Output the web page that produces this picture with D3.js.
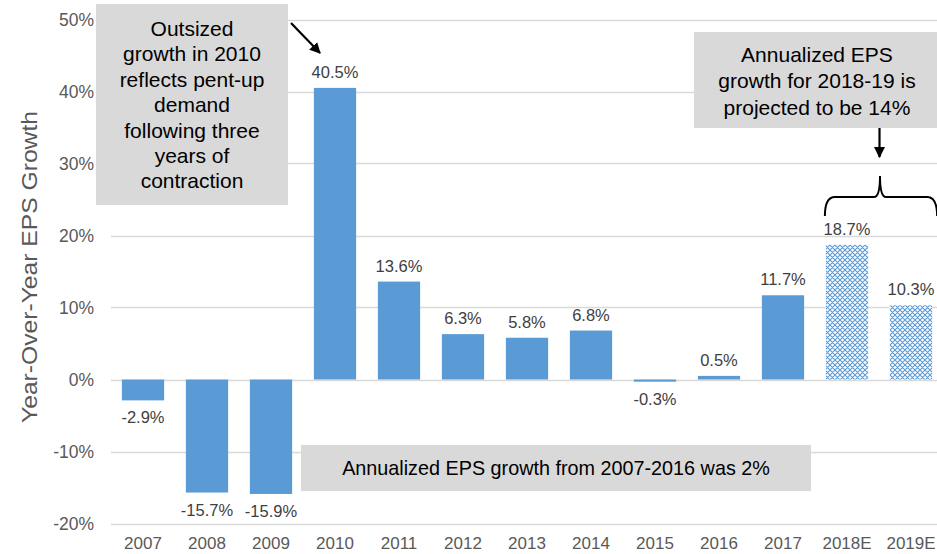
<!DOCTYPE html>
<html>
<head>
<meta charset="utf-8">
<script src="https://cdn.jsdelivr.net/npm/d3@7"></script>
<style>
	body { margin: 0; background: #fff; }
	svg { display: block; font-family: "Liberation Sans", Arial, sans-serif; }
</style>
</head>
<body>
<svg width="937" height="554"></svg>
<script>
// data
var years = ["2007", "2008", "2009", "2010", "2011", "2012", "2013", "2014", "2015", "2016", "2017", "2018E", "2019E"];
var growth = [-2.9, -15.7, -15.9, 40.5, 13.6, 6.3, 5.8, 6.8, -0.3, 0.5, 11.7, 18.7, 10.3];
var estimated = [false, false, false, false, false, false, false, false, false, false, false, true, true];
var yTicks = [-20, -10, 0, 10, 20, 30, 40, 50];

var noteLeft = ["Outsized", "growth in 2010", "reflects pent-up", "demand", "following three", "years of", "contraction"];
var noteRight = ["Annualized EPS", "growth for 2018-19 is", "projected to be 14%"];
var noteBottom = "Annualized EPS growth from 2007-2016 was 2%";

var svg = d3.select("svg"), width = +svg.attr("width"), height = +svg.attr("height");

var x = d3.scaleBand().domain(years).range([111, 943]).paddingInner(0.34).paddingOuter(0.17);
var y = d3.scaleLinear().domain([-20, 50]).range([523.5, 19.5]);

// hatch for estimates
var defs = svg.append("defs");
var pat = defs.append("pattern")
	.attr("id", "hatch")
	.attr("patternUnits", "userSpaceOnUse")
	.attr("width", 5).attr("height", 5);
pat.append("rect").attr("width", 5).attr("height", 5).attr("fill", "#fff");
pat.append("path")
	.attr("d", "M0,0L5,5M5,0L0,5M-1,4L1,6M4,-1L6,1")
	.attr("stroke", "#5B9BD5").attr("stroke-width", 1.1);

var marker = defs.append("marker")
	.attr("id", "arrow")
	.attr("viewBox", "0 0 10 10")
	.attr("refX", 9).attr("refY", 5)
	.attr("markerWidth", 5).attr("markerHeight", 5)
	.attr("orient", "auto");
marker.append("path").attr("d", "M0,0L10,5L0,10z").attr("fill", "#000");

// gridlines
svg.append("g")
	.selectAll("line")
	.data(yTicks)
	.enter().append("line")
	.attr("x1", 111).attr("x2", width)
	.attr("y1", function(d) { return Math.round(y(d)) + 0.5; })
	.attr("y2", function(d) { return Math.round(y(d)) + 0.5; })
	.attr("stroke", "#D9D9D9").attr("stroke-width", 1.3);

// y axis labels
var yAxis = svg.append("g")
	.attr("transform", "translate(94,0)")
	.call(d3.axisLeft(y).tickValues(yTicks).tickSize(0).tickPadding(0).tickFormat(function(d) { return d + "%"; }));
yAxis.select(".domain").remove();
yAxis.selectAll("text").attr("fill", "#595959").style("font-size", "17.5px").style("font-family", "Liberation Sans, Arial, sans-serif");

// x axis labels
var xAxis = svg.append("g")
	.attr("transform", "translate(0,537)")
	.call(d3.axisBottom(x).tickSize(0).tickPadding(0));
xAxis.select(".domain").remove();
xAxis.selectAll("text").attr("fill", "#595959").style("font-size", "17px").style("font-family", "Liberation Sans, Arial, sans-serif");

// y title
svg.append("text")
	.attr("transform", "translate(37,267) rotate(-90)")
	.attr("text-anchor", "middle")
	.attr("fill", "#595959")
	.attr("textLength", 312)
	.attr("lengthAdjust", "spacingAndGlyphs")
	.style("font-size", "22px")
	.text("Year-Over-Year EPS Growth");

// bars
svg.append("g")
	.selectAll("rect")
	.data(years)
	.enter().append("rect")
	.attr("x", function(d) { return x(d); })
	.attr("width", x.bandwidth())
	.attr("y", function(d, i) { return y(Math.max(0, growth[i])); })
	.attr("height", function(d, i) { return Math.abs(y(growth[i]) - y(0)); })
	.attr("fill", function(d, i) { return estimated[i] ? "url(#hatch)" : "#5B9BD5"; });

// value labels
svg.append("g")
	.selectAll("text")
	.data(years)
	.enter().append("text")
	.attr("x", function(d) { return x(d) + x.bandwidth() / 2; })
	.attr("y", function(d, i) { return growth[i] >= 0 ? y(growth[i]) - 10 : y(growth[i]) + 23; })
	.attr("text-anchor", "middle")
	.attr("fill", "#404040")
	.style("font-size", "16.5px")
	.text(function(d, i) { return growth[i].toFixed(1) + "%"; });

// notes
function note(x0, y0, w, h, lines, cx, firstY, step, size) {
	svg.append("rect").attr("x", x0).attr("y", y0).attr("width", w).attr("height", h).attr("fill", "#D9D9D9");
	svg.append("g")
		.selectAll("text")
		.data(lines)
		.enter().append("text")
		.attr("x", cx)
		.attr("y", function(d, i) { return firstY + i * step; })
		.attr("text-anchor", "middle")
		.attr("dy", "0.35em")
		.attr("fill", "#000")
		.style("font-size", size + "px")
		.text(function(d) { return d; });
}

note(96, 4, 192, 201, noteLeft, 192, 28.6, 25.4, 21);
note(694, 32, 250, 96, noteRight, 817, 54.5, 26.5, 21);
note(301, 445, 510, 46, [noteBottom], 556, 468, 0, 19.8);

// arrows
svg.append("line")
	.attr("x1", 291).attr("y1", 23).attr("x2", 320).attr("y2", 53)
	.attr("stroke", "#000").attr("stroke-width", 2.2)
	.attr("marker-end", "url(#arrow)");
svg.append("line")
	.attr("x1", 879.5).attr("y1", 128).attr("x2", 879.5).attr("y2", 157)
	.attr("stroke", "#000").attr("stroke-width", 2.2)
	.attr("marker-end", "url(#arrow)");

// brace over estimates
var bl = x("2018E") - 1, br = x("2019E") + x.bandwidth() + 5, bm = 880;
svg.append("path")
	.attr("d", "M" + bl + ",216 Q" + bl + ",197 " + (bl + 10) + ",197 L" + (bm - 6) + ",197 Q" + bm + ",197 " + bm + ",176"
		+ " Q" + bm + ",197 " + (bm + 6) + ",197 L" + (br - 10) + ",197 Q" + br + ",197 " + br + ",216")
	.attr("fill", "none").attr("stroke", "#000").attr("stroke-width", 2);
</script>
</body>
</html>
